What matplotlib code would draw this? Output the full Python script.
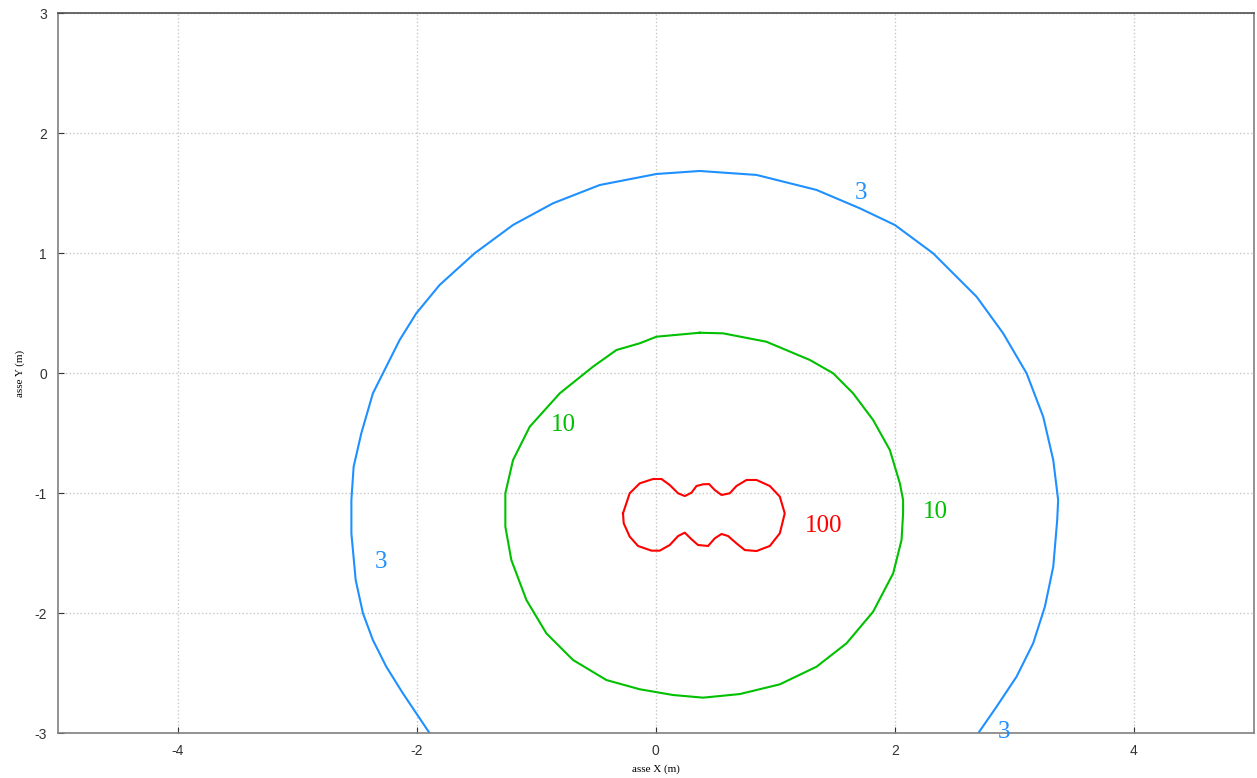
import numpy as np
import matplotlib.pyplot as plt

plt.rcParams['axes.unicode_minus'] = False

# contour level 3 (metres)
c3_x = [-1.891, -2.115, -2.254, -2.366, -2.449, -2.510, -2.546, -2.546, -2.527, -2.463,
        -2.366, -2.282, -2.142, -2.003, -1.808, -1.515, -1.194, -0.859, -0.469, 0.006,
        0.368, 0.843, 1.345, 1.707, 2.000, 2.320, 2.684, 2.906, 3.102, 3.241,
        3.325, 3.366, 3.358, 3.325, 3.255, 3.157, 3.018, 2.851, 2.697]
c3_y = [-3.000, -2.667, -2.445, -2.223, -2.000, -1.723, -1.333, -1.056, -0.778, -0.500,
        -0.167, 0.000, 0.278, 0.500, 0.736, 1.000, 1.236, 1.417, 1.569, 1.661,
        1.686, 1.653, 1.528, 1.375, 1.236, 1.000, 0.638, 0.333, 0.000, -0.362,
        -0.723, -1.056, -1.223, -1.612, -1.945, -2.250, -2.528, -2.778, -3.000]

# contour level 10
c10_x = [0.368, 0.006, -0.134, -0.329, -0.525, -0.803, -1.054, -1.194, -1.258, -1.258,
         -1.208, -1.082, -0.915, -0.692, -0.413, -0.134, 0.145, 0.396, 0.703, 1.038,
         1.345, 1.596, 1.818, 1.986, 2.056, 2.069, 2.069, 2.042, 1.958, 1.818,
         1.651, 1.484, 1.289, 0.926, 0.563, 0.368]
c10_y = [0.338, 0.305, 0.250, 0.194, 0.055, -0.167, -0.445, -0.723, -1.000, -1.278,
         -1.556, -1.889, -2.167, -2.389, -2.556, -2.633, -2.681, -2.703, -2.673, -2.592,
         -2.445, -2.250, -1.987, -1.667, -1.389, -1.167, -1.056, -0.917, -0.639, -0.389,
         -0.167, 0.000, 0.111, 0.263, 0.333, 0.338]

# contour level 100
c100_x = [-0.274, -0.218, -0.134, -0.023, 0.048, 0.117, 0.187, 0.243, 0.299, 0.341,
          0.396, 0.446, 0.494, 0.550, 0.619, 0.675, 0.759, 0.843, 0.954, 1.038,
          1.079, 1.038, 0.954, 0.843, 0.745, 0.675, 0.605, 0.550, 0.494, 0.438,
          0.354, 0.299, 0.243, 0.187, 0.117, 0.033, -0.036, -0.148, -0.218, -0.268, -0.274]
c100_y = [-1.167, -1.000, -0.917, -0.881, -0.881, -0.931, -1.000, -1.023, -0.995, -0.939,
          -0.925, -0.923, -0.973, -1.014, -1.000, -0.939, -0.889, -0.889, -0.939, -1.028,
          -1.167, -1.333, -1.439, -1.481, -1.473, -1.417, -1.356, -1.339, -1.375, -1.439,
          -1.431, -1.383, -1.328, -1.356, -1.431, -1.478, -1.478, -1.439, -1.361, -1.250, -1.167]

# contour labels
label_text = ['3', '3', '3', '10', '10', '100']
label_x = [1.715, -2.301, 2.912, -0.770, 2.343, 1.406]
label_y = [1.505, -1.570, -2.990, -0.430, -1.155, -1.270]

col3 = '#1e90ff'
col10 = '#00c000'
col100 = '#ff0000'
label_col = [col3, col3, col3, col10, col10, col100]

fig = plt.figure(figsize=(12.57, 7.78), dpi=100)
ax = fig.add_axes([58 / 1257, 1 - 733.3 / 778, 1195.5 / 1257, 720 / 778])

ax.plot(c3_x, c3_y, color=col3, lw=1.5, solid_joinstyle='round')
ax.plot(c10_x, c10_y, color=col10, lw=1.5, solid_joinstyle='round')
ax.plot(c100_x, c100_y, color=col100, lw=1.5, solid_joinstyle='round')

for t, x, y, c in zip(label_text, label_x, label_y, label_col):
    ax.text(x, y, t, color=c, fontsize=18, family='Liberation Serif',
            ha='center', va='center')

ax.set_xlim(-5, 5)
ax.set_ylim(-3, 3)
ax.set_xticks([-4, -2, 0, 2, 4])
ax.set_yticks([-3, -2, -1, 0, 1, 2, 3])
ax.grid(True, linestyle=':', color='#c8c8c8', linewidth=1)
ax.tick_params(direction='in', length=4, color='#333333', labelcolor='#333333',
               labelsize=10, pad=8)
for lab in ax.get_xticklabels() + ax.get_yticklabels():
    lab.set_family('Liberation Sans')
for s in ax.spines.values():
    s.set_color('#808080')
    s.set_linewidth(1.2)
ax.spines['top'].set_color('#505050')

ax.set_xlabel('asse X (m)', family='Liberation Serif', fontsize=8, labelpad=4)
ax.set_ylabel('asse Y (m)', family='Liberation Serif', fontsize=8, labelpad=7)

fig.savefig('out.png', dpi=100)
